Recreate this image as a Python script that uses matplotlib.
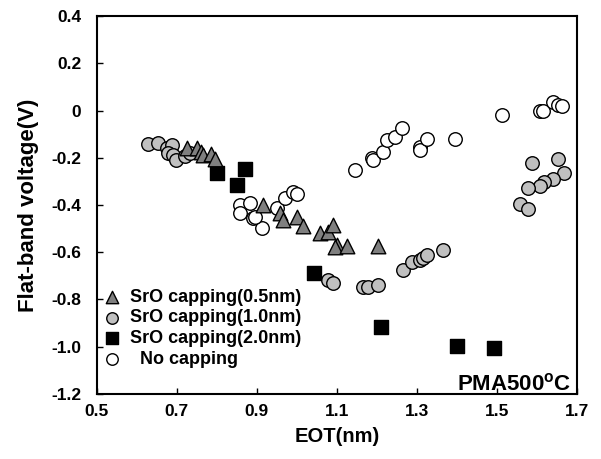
import matplotlib.pyplot as plt

plt.rcParams['font.family'] = ['Liberation Sans', 'DejaVu Sans']
plt.rcParams['font.weight'] = 'bold'
plt.rcParams['mathtext.fontset'] = 'custom'
plt.rcParams['mathtext.bf'] = 'Liberation Sans:bold'
plt.rcParams['mathtext.rm'] = 'Liberation Sans:bold'

# SrO capping 0.5 nm (triangles)
eot_05 = [0.725, 0.75, 0.76, 0.765, 0.785, 0.795, 0.915, 0.958, 0.965, 1.0,
          1.015, 1.058, 1.078, 1.09, 1.10, 1.095, 1.125, 1.2025]
vfb_05 = [-0.158, -0.16, -0.175, -0.19, -0.185, -0.205, -0.40, -0.433, -0.463, -0.45,
          -0.49, -0.517, -0.513, -0.484, -0.568, -0.58, -0.573, -0.573]

# SrO capping 1.0 nm (grey circles)
eot_10 = [0.628, 0.653, 0.675, 0.688, 0.678, 0.69, 0.698, 0.72, 0.733,
          1.078, 1.09, 1.165, 1.178, 1.203, 1.265, 1.288, 1.308, 1.315, 1.325, 1.365,
          1.588, 1.653, 1.668, 1.64, 1.618, 1.608, 1.578, 1.558, 1.578]
vfb_10 = [-0.141, -0.137, -0.158, -0.145, -0.18, -0.188, -0.209, -0.192, -0.18,
          -0.716, -0.729, -0.746, -0.746, -0.737, -0.674, -0.64, -0.632, -0.625, -0.61, -0.589,
          -0.222, -0.205, -0.264, -0.289, -0.302, -0.319, -0.327, -0.395, -0.416]

# SrO capping 2.0 nm (black squares)
eot_20 = [0.80, 0.87, 0.85, 1.043, 1.21, 1.40, 1.493]
vfb_20 = [-0.265, -0.247, -0.315, -0.687, -0.915, -0.999, -1.008]

# No capping (white circles)
eot_nc = [0.858, 0.883, 0.858, 0.89, 0.913, 0.895, 0.95, 0.97, 0.99, 1.0,
          1.145, 1.188, 1.19, 1.215, 1.225, 1.245, 1.263, 1.308, 1.308, 1.325,
          1.395, 1.513, 1.608, 1.615, 1.64, 1.653, 1.663]
vfb_nc = [-0.40, -0.39, -0.433, -0.454, -0.496, -0.45, -0.412, -0.37, -0.344, -0.353,
          -0.251, -0.20, -0.209, -0.175, -0.124, -0.112, -0.074, -0.154, -0.167, -0.12,
          -0.12, -0.019, 0.0, -0.004, 0.036, 0.023, 0.019]

x_ticks = [0.5, 0.7, 0.9, 1.1, 1.3, 1.5, 1.7]
y_ticks = [0.4, 0.2, 0, -0.2, -0.4, -0.6, -0.8, -1.0, -1.2]
y_tick_labels = ['0.4', '0.2', '0', '-0.2', '-0.4', '-0.6', '-0.8', '-1.0', '-1.2']

fig = plt.figure(figsize=(6.01, 4.59), dpi=100)
ax = fig.add_axes([0.161, 0.142, 0.799, 0.823])

ax.scatter(eot_nc, vfb_nc, marker='o', s=95, c='white', edgecolors='black',
           linewidths=1, label='  No capping', zorder=3)
ax.scatter(eot_10, vfb_10, marker='o', s=95, c='#c0c0c0', edgecolors='black',
           linewidths=1, label='SrO capping(1.0nm)', zorder=4)
ax.scatter(eot_20, vfb_20, marker='s', s=100, c='black', edgecolors='black',
           linewidths=1, label='SrO capping(2.0nm)', zorder=5)
ax.scatter(eot_05, vfb_05, marker='^', s=110, c='#7f7f7f', edgecolors='black',
           linewidths=1, label='SrO capping(0.5nm)', zorder=6)

ax.set_xlim(0.5, 1.7)
ax.set_ylim(-1.2, 0.4)
ax.set_xticks(x_ticks)
ax.set_xticklabels([f'{v:.1f}' for v in x_ticks])
ax.set_yticks(y_ticks)
ax.set_yticklabels(y_tick_labels)
ax.tick_params(direction='in', length=4, width=1, labelsize=12.5)
ax.tick_params(axis='x', pad=7)
ax.tick_params(axis='y', pad=11)
for s in ax.spines.values():
    s.set_linewidth(1.5)

ax.set_xlabel('EOT(nm)', fontsize=14.5, fontweight='bold', labelpad=6)
ax.set_ylabel('Flat-band voltage(V)', fontsize=16, fontweight='bold', labelpad=9)

ax.text(1.685, -1.16, 'PMA500$^{\\mathbf{o}}$C', fontsize=16, fontweight='bold',
        ha='right', va='center')

handles, labels = ax.get_legend_handles_labels()
order = [3, 1, 2, 0]
ax.legend([handles[i] for i in order], [labels[i] for i in order],
          loc='lower left', bbox_to_anchor=(-0.02, 0.036), frameon=False,
          fontsize=13, handletextpad=0.25, labelspacing=0.2,
          borderaxespad=0.3, markerscale=0.85, handlelength=1.4)

fig.savefig('out.png', dpi=100)
